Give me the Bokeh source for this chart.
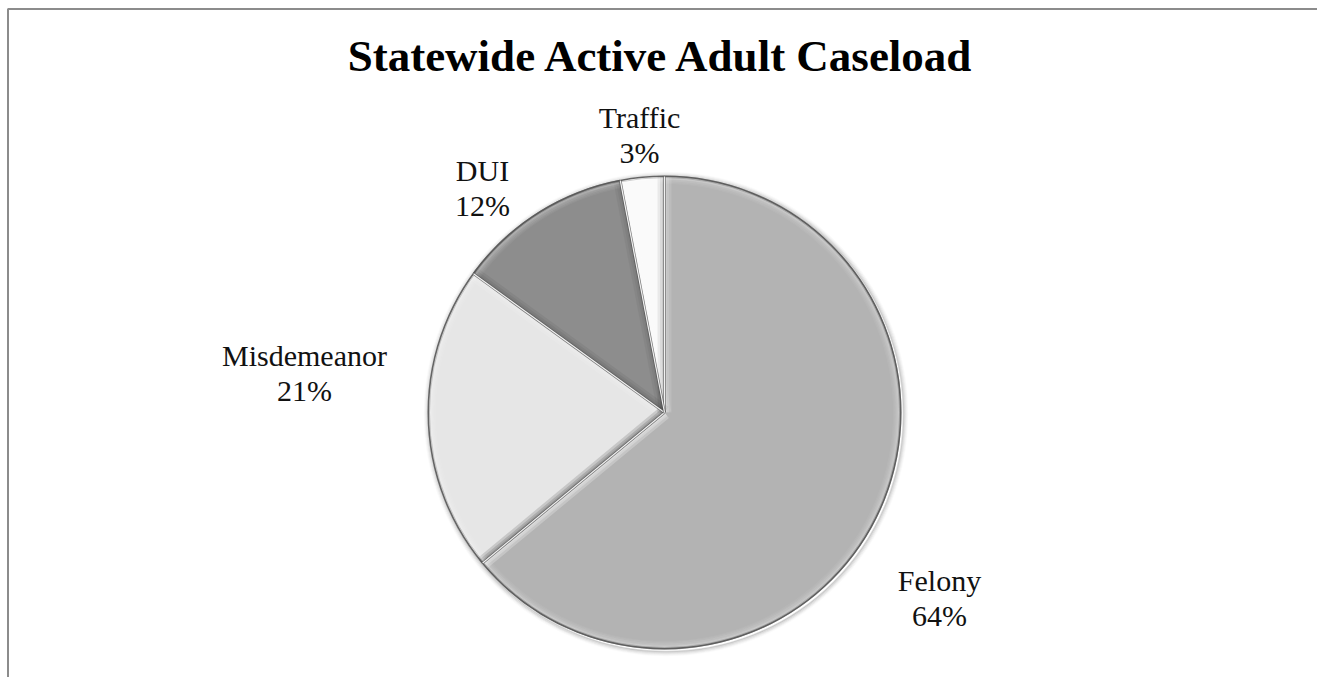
import math
from bokeh.plotting import figure
from bokeh.models import Range1d, ColumnDataSource
from bokeh.core.properties import value
from bokeh.embed import file_html
from bokeh.resources import INLINE

# ---- data ----
categories = ["Felony", "Misdemeanor", "DUI", "Traffic"]
shares = [64, 21, 12, 3]
slice_colors = ["#b3b3b3", "#e6e6e6", "#8d8d8d", "#fafafa"]
title_text = "Statewide Active Adult Caseload"

# ---- layout (pixel-like data space) ----
W, H = 1317, 677
CX, CY, R = 664, 265, 237
label_x = [939, 304, 482, 639]
label_y_name = [97, 322, 507, 560]
line_gap = 35
LIGHT = math.radians(120)

p = figure(width=W, height=H, output_backend="svg", toolbar_location=None,
           x_range=Range1d(0, W), y_range=Range1d(0, H), min_border=0)
p.axis.visible = False
p.grid.visible = False
p.outline_line_color = None
p.background_fill_color = "white"
p.border_fill_color = "white"

# frame (top and left edges visible; right/bottom run off the page)
p.line([7.5, 7.5, W + 20], [-20, H - 8.5, H - 8.5], line_color="#8c8c8c", line_width=2)

# angles: start at 12 o'clock, go clockwise
total = float(sum(shares))
starts, ends = [], []
cum = 0.0
for v in shares:
    a_end = math.radians(90 - cum / total * 360)
    cum += v
    a_start = math.radians(90 - cum / total * 360)
    starts.append(a_start)
    ends.append(a_end)

src = ColumnDataSource(dict(cat=categories, v=shares, color=slice_colors,
                            start=starts, end=ends))

# soft drop shadow
for i, a in enumerate([0.16, 0.10, 0.07, 0.04, 0.02]):
    p.circle(x=[CX + 1.5], y=[CY - 1.5], radius=R + 0.5 + i, fill_color=None,
             line_color="black", line_alpha=a, line_width=1.5)

p.wedge(x=CX, y=CY, radius=R, start_angle="start", end_angle="end",
        fill_color="color", line_color=None, source=src)

# radial bevel strips inside each slice
def strip(a, side, w):
    nx, ny = math.cos(a + side * math.pi / 2), math.sin(a + side * math.pi / 2)
    ex, ey = math.cos(a), math.sin(a)
    xs = [CX, CX + R * ex, CX + R * ex + w * nx, CX + w * nx]
    ys = [CY, CY + R * ey, CY + R * ey + w * ny, CY + w * ny]
    return xs, ys

for s0, s1 in zip(starts, ends):
    for a, side in ((s0, 1), (s1, -1)):
        normal = a - side * math.pi / 2
        b = math.cos(normal - LIGHT)
        col = "white" if b > 0 else "black"
        strength = abs(b) * (0.55 if b > 0 else 0.30)
        xs_l, ys_l, al = [], [], []
        for w in (7, 4.5, 2.5):
            xs, ys = strip(a, side, w)
            xs_l.append(xs); ys_l.append(ys); al.append(strength * 0.45)
        p.patches(xs_l, ys_l, fill_color=col, fill_alpha=al, line_color=None)

# rim bevel
for i, a in enumerate([0.30, 0.22, 0.15, 0.09, 0.05]):
    p.circle(x=[CX], y=[CY], radius=R - 2.6 - i * 1.3, fill_color=None,
             line_color="white", line_alpha=a, line_width=1.4)
p.circle(x=[CX], y=[CY], radius=R - 0.8, fill_color=None,
         line_color="#555555", line_alpha=0.9, line_width=1.6)
p.circle(x=[CX], y=[CY], radius=R - 2.0, fill_color=None,
         line_color="#7a7a7a", line_alpha=0.35, line_width=1.0)

# radial separators
for a in ends:
    xs = [CX, CX + (R - 1) * math.cos(a)]
    ys = [CY, CY + (R - 1) * math.sin(a)]
    p.line(xs, ys, line_color="#4f4f4f", line_alpha=0.75, line_width=2.6)
    p.line(xs, ys, line_color="white", line_alpha=0.9, line_width=1.2)

# labels
pct_text = [f"{round(v / total * 100)}%" for v in shares]
lab = ColumnDataSource(dict(x=label_x, y1=label_y_name,
                            y2=[y - line_gap for y in label_y_name],
                            name=categories, pct=pct_text))
for col, ycol in (("name", "y1"), ("pct", "y2")):
    p.text(x="x", y=ycol, text=col, source=lab, text_align="center",
           text_baseline="alphabetic", text_font=value("Liberation Serif"),
           text_font_size="30px", text_color="#111111")

p.text(x=[661.5], y=[622], text=[title_text], text_align="center",
       text_baseline="alphabetic", text_font=value("Liberation Serif"),
       text_font_style="bold", text_font_size="45px", text_color="black")

open("out.html", "w").write(file_html(p, INLINE))
